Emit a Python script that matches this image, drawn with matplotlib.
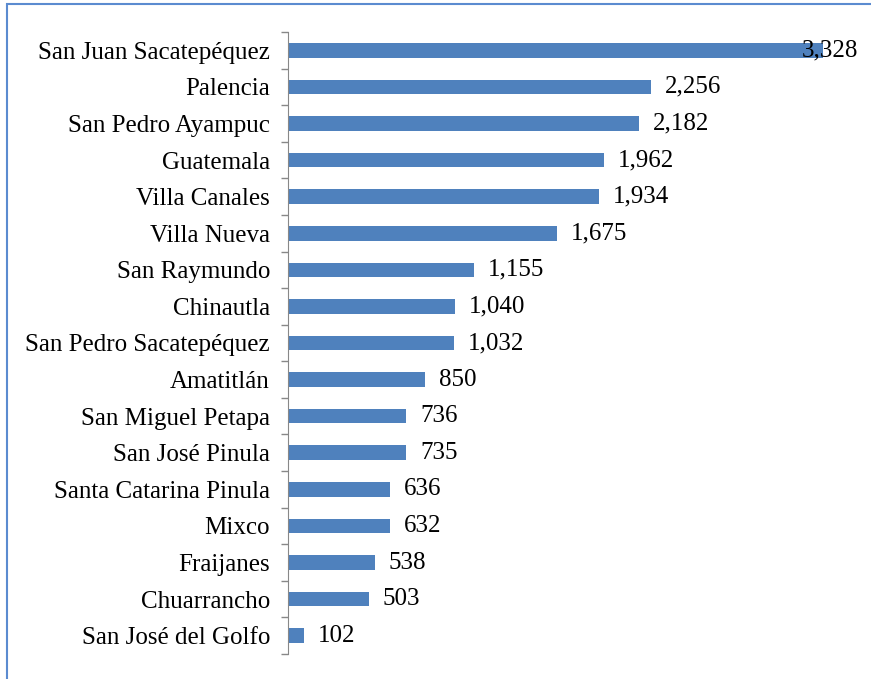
import matplotlib.pyplot as plt
from matplotlib.patches import Rectangle

# data (top to bottom as in the chart)
municipios = ["San Juan Sacatepéquez", "Palencia", "San Pedro Ayampuc", "Guatemala",
              "Villa Canales", "Villa Nueva", "San Raymundo", "Chinautla",
              "San Pedro Sacatepéquez", "Amatitlán", "San Miguel Petapa",
              "San José Pinula", "Santa Catarina Pinula", "Mixco", "Fraijanes",
              "Chuarrancho", "San José del Golfo"]
valores = [3328, 2256, 2182, 1962, 1934, 1675, 1155, 1040, 1032, 850, 736,
           735, 636, 632, 538, 503, 102]

plt.rcParams['font.family'] = ['Liberation Serif', 'DejaVu Serif']

fig = plt.figure(figsize=(8.71, 6.79), dpi=100)
ax = fig.add_axes([288/871, 1-654/679, (851-288)/871, (654-32)/679])

n = len(municipios)
pos = list(range(n))[::-1]
ax.barh(pos, valores, height=0.4, color='#4F81BD')

xmax = 3500
ax.set_xlim(0, xmax)
ax.set_ylim(-0.5, n - 0.5)

for y, v in zip(pos, valores):
    txt = f"{v:,}"
    if v > 3000:
        ax.text(xmax + 45, y, txt, va='center', ha='right', fontsize=18)
    else:
        ax.annotate(txt, (v, y), xytext=(10, 0), textcoords='offset points',
                    va='center', ha='left', fontsize=18)

ax.set_yticks(pos)
ax.set_yticklabels(municipios, fontsize=18)
ax.set_yticks([i - 0.5 for i in range(n + 1)], minor=True)
ax.tick_params(axis='y', which='major', length=0, pad=13)
ax.tick_params(axis='y', which='minor', length=5, color='#888888', width=1)
ax.set_xticks([])
for s in ['top', 'right', 'bottom']:
    ax.spines[s].set_visible(False)
ax.spines['left'].set_color('#888888')

# border of the chart area
fig.patches.append(Rectangle((7/871, -0.1), 1.2, 1 - 4/679 + 0.1,
                             transform=fig.transFigure, fill=False,
                             edgecolor='#5B8BD0', linewidth=1.5))

fig.savefig('out.png', dpi=100)
